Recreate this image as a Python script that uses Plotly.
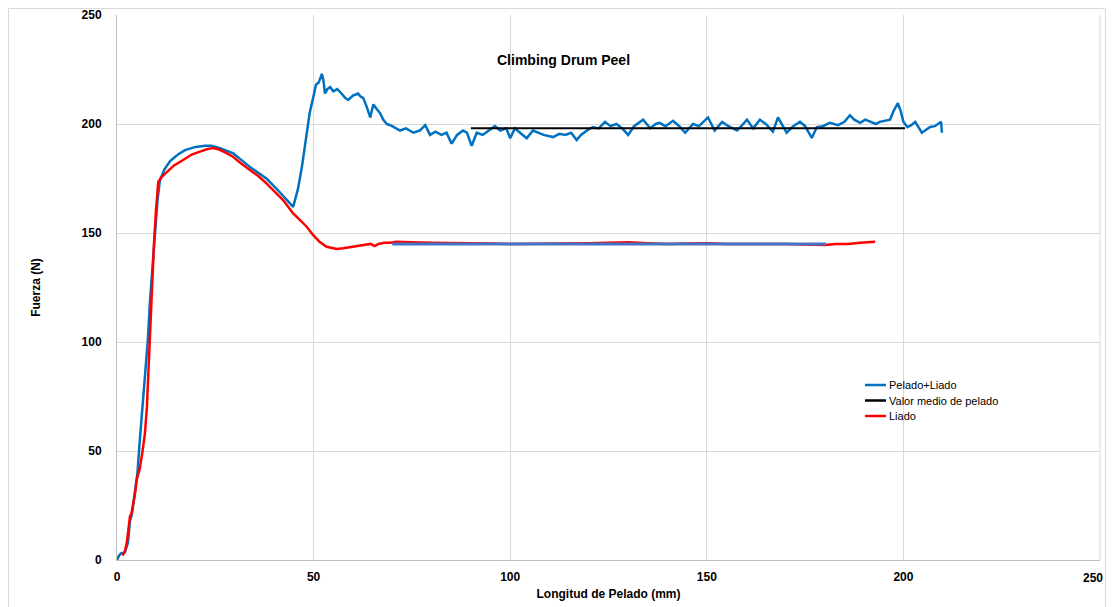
import plotly.graph_objects as go

# Pelado+Liado (blue)
pl_x = [0, 0.5, 1, 2, 2.8, 3.3, 3.8, 4.5, 5.2, 5.8, 6.5, 7.1, 7.8, 8.4, 9, 9.7, 10.3, 10.9, 12, 13.5,
        15.5, 17.3, 20, 22.4, 24, 26, 29.6, 31.3, 34, 38, 41, 44.8, 46, 47, 48, 49, 50, 50.6, 51.3, 52.1,
        52.5, 52.9, 53.5, 54.2, 55, 56, 57.1, 58, 58.8, 60, 61.3, 62, 62.6, 63.5, 64.4, 65.2, 66, 66.9,
        67.7, 68.6, 70, 71, 72, 73.5, 75.4, 77, 78.4, 79.6, 81, 82.5, 83.8, 85.1, 86.5, 88, 89, 90.2,
        91.5, 93, 94.5, 96.1, 97.5, 99, 100, 101.2, 102.5, 104.2, 105.8, 107, 108.5, 110.9, 112.5, 114,
        115.5, 116.9, 118, 119.5, 121, 122.5, 124.1, 125.5, 127, 128.5, 130, 131.5, 133.8, 135.6, 137,
        138, 139.5, 141.4, 143, 144.5, 146.5, 148, 150.3, 152, 153.9, 155.5, 157.7, 159, 160.2, 161.8,
        163.5, 165, 166.8, 168.1, 169.3, 170.3, 172, 173.7, 175, 176.7, 178, 179.5, 181.3, 183.4, 185,
        186.4, 187.5, 189, 190.3, 191.5, 193, 194, 195.5, 196.6, 197.5, 198.6, 199.3, 200, 201, 202, 203,
        204, 204.7, 205.5, 206.8, 208, 209.3, 209.6, 209.8]
pl_y = [0, 2, 3, 3.5, 8, 18, 21, 30, 40, 55, 70, 82, 100, 119, 135, 151, 165, 174, 179, 183,
        186, 188, 189.5, 190, 190, 189, 186.5, 184, 180, 175, 169.5, 162, 170, 180, 192, 205, 213, 218, 219, 223,
        220, 214, 216, 217, 215, 216, 214, 212, 211, 213, 214, 212.5, 212, 208, 203, 209, 207, 205,
        202, 200, 199, 198, 197, 198, 196, 197, 199.5, 195, 196.5, 195, 196, 191, 195, 197, 196, 190,
        196, 195, 197, 199, 197, 198, 193.5, 198, 196, 193.5, 197, 196, 195, 194, 195.5, 195,
        196, 192.7, 195, 197, 198.6, 198, 201, 199, 200, 198, 195, 199, 202, 198, 200,
        200.5, 199, 201.5, 199, 196, 200, 199, 203, 197, 201, 199, 197, 199.5, 202, 198,
        202, 200, 196.5, 203, 199, 196, 199, 201, 199, 193.6, 198.6, 199, 200.5, 199.5, 201,
        204, 202, 200.5, 202, 201, 200, 201, 201.5, 202, 206, 209.6, 206, 201, 198.6, 199.5, 201,
        198, 196, 197, 198.6, 199, 200.5, 201, 196]

# Valor medio de pelado (black)
vm_x = [90, 200.4]
vm_y = [198, 198]

# Liado (red)
li_x = [1.4, 2.0, 2.5, 3.0, 3.3, 3.7, 4.2, 4.6, 5, 5.8, 6.5, 7.1, 7.6, 8.1, 8.5, 8.9, 9.4, 9.9, 10.5, 11.5,
        12.6, 14.5, 16.8, 19, 21.1, 23, 24.5, 26, 27.5, 29.5, 31.5, 33.8, 36, 38, 40, 42.3, 44.8, 46.5,
        48.2, 49.9, 51.5, 53.3, 55.9, 57.5, 59.3, 61, 63, 64.5, 65.5, 66.5, 68, 69.5, 71, 72.5, 75, 80,
        85, 90, 95, 100, 105, 110, 115, 120, 125, 130, 135, 140, 145, 150, 155, 160, 165, 170, 175, 180,
        183, 186, 189, 192.8]
li_y = [2, 4, 8, 15, 20, 21.5, 26, 30.6, 36.7, 42, 50, 58, 70, 90, 110, 128, 145, 160, 173.5, 176,
        178, 181, 183.5, 186, 187.3, 188.5, 189, 188.3, 187, 185, 182, 179, 176, 172.8, 169, 165, 159, 156,
        153, 149, 146, 143.7, 142.7, 143, 143.6, 144, 144.5, 145, 144, 145, 145.5, 145.5, 146, 146, 145.7, 145.5,
        145.5, 145.5, 145.2, 145, 145, 145, 145, 145.3, 145.5, 145.7, 145.3, 145, 145.2, 145.3, 145, 145, 145.2, 145, 144.7, 144.5,
        145, 145, 145.5, 146]

# Valor medio de liado (not in legend)
ml_x = [70, 180.3]
ml_y = [145, 145]

x_ticks = [0, 50, 100, 150, 200, 250]
y_ticks = [0, 50, 100, 150, 200, 250]

legend_names = ["Pelado+Liado", "Valor medio de pelado", "Liado"]
legend_colors = ["#0070C0", "#000000", "#FF0000"]

FONT = "Liberation Sans, Arial, sans-serif"

fig = go.Figure()
fig.add_trace(go.Scatter(x=pl_x, y=pl_y, mode="lines", line=dict(color="#0070C0", width=2.5),
                         name="Pelado+Liado"))
fig.add_trace(go.Scatter(x=vm_x, y=vm_y, mode="lines", line=dict(color="#000000", width=2),
                         name="Valor medio de pelado"))
fig.add_trace(go.Scatter(x=li_x, y=li_y, mode="lines", line=dict(color="#FF0000", width=2.5),
                         name="Liado"))
fig.add_trace(go.Scatter(x=ml_x, y=ml_y, mode="lines", line=dict(color="#4472C4", width=3),
                         name="Valor medio de liado"))

# page offset of the figure (browser body margin)
OFF = 8
W, H = 1098, 599
# plot area in page pixels: x 117..1100, y 15..560
L, R, T, B = 117, 1100, 15, 560
def px(xp):
    return (xp - L) / (R - L)
def py(yp):
    return (B - yp) / (B - T)

tickfont = dict(family=FONT, size=12, color="#000000", weight="bold")

annotations = [dict(text="Climbing Drum Peel", xref="paper", yref="paper", x=px(563), y=py(60),
                    xanchor="center", yanchor="middle", showarrow=False,
                    font=dict(family=FONT, size=14, color="#000000", weight="bold")),
               # last x tick label, kept inside the visible page
               dict(text=str(x_ticks[-1]), xref="paper", yref="paper", x=px(1105), y=py(578),
                    xanchor="right", yanchor="middle", showarrow=False, font=tickfont)]
shapes = [dict(type="rect", xref="paper", yref="paper", x0=px(OFF + 0.5), y0=py(620), x1=px(OFF + W - 0.5), y1=py(OFF + 0.5),
               line=dict(color="#d9d9d9", width=1), fillcolor="rgba(0,0,0,0)", layer="below"),
          dict(type="line", xref="paper", yref="paper", x0=1, y0=0, x1=1, y1=1,
               line=dict(color="#d9d9d9", width=1))]
for i, (nm, col) in enumerate(zip(legend_names, legend_colors)):
    yc = 385 + i * 15.5
    shapes.append(dict(type="line", xref="paper", yref="paper", x0=px(865), x1=px(886),
                       y0=py(yc), y1=py(yc), line=dict(color=col, width=2.5)))
    annotations.append(dict(text=nm, xref="paper", yref="paper", x=px(887), y=py(yc),
                            xanchor="left", yanchor="middle", showarrow=False,
                            font=dict(family=FONT, size=11, color="#000000")))

fig.update_layout(
    width=W, height=H,
    margin=dict(l=L - OFF, r=W - (R - OFF), t=T - OFF, b=H - (B - OFF), autoexpand=False),
    paper_bgcolor="white", plot_bgcolor="white",
    font=dict(family=FONT, size=12, color="#000000"),
    showlegend=False,
    xaxis=dict(range=[0, 250], tickmode="array", tickvals=x_ticks,
               ticktext=[str(v) for v in x_ticks[:-1]] + [""],
               showgrid=True, gridcolor="#d9d9d9", gridwidth=1,
               showline=True, linecolor="#bfbfbf", linewidth=1, zeroline=False, ticks="",
               automargin=False, tickfont=tickfont, ticklabelstandoff=6,
               title=dict(text="Longitud de Pelado (mm)", standoff=6,
                          font=dict(family=FONT, size=12, color="#000000", weight="bold"))),
    yaxis=dict(range=[0, 250], tickmode="array", tickvals=y_ticks,
               showgrid=True, gridcolor="#d9d9d9", gridwidth=1,
               showline=True, linecolor="#bfbfbf", linewidth=1, zeroline=False, ticks="",
               automargin=False, tickfont=tickfont, ticklabelstandoff=12,
               title=dict(text="Fuerza (N)", standoff=38,
                          font=dict(family=FONT, size=12, color="#000000", weight="bold"))),
    annotations=annotations,
    shapes=shapes,
)

fig.write_html("out.html")
